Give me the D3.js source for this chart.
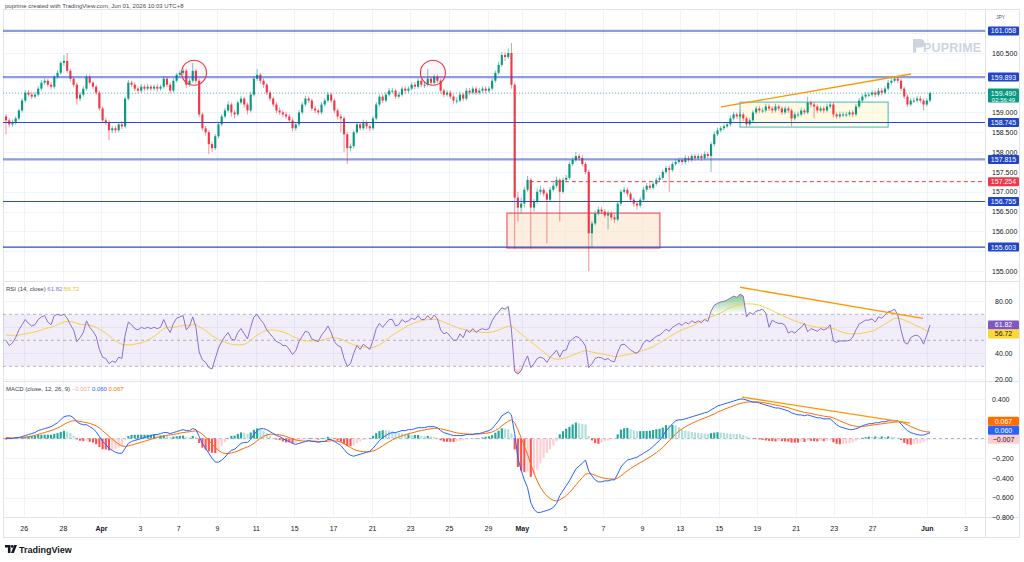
<!DOCTYPE html>
<html>
<head>
<meta charset="utf-8">
<title>USDJPY 4H</title>
<script src="https://cdn.jsdelivr.net/npm/d3@7"></script>
<style>
  body { margin: 0; background: #fff; }
  svg { display: block; }
  text { font-family: "Liberation Sans", Arial, sans-serif; }
</style>
</head>
<body>
<div id="chart"></div>
<script>
// ---- 4H candles ----
const opens = [
158.90,158.80,158.70,158.75,158.85,159.05,159.30,159.50,159.45,159.40,
159.45,159.60,159.75,159.80,159.70,159.65,159.90,160.00,160.25,160.30,
160.05,159.85,159.70,159.35,159.45,159.60,159.90,159.75,159.65,159.50,
159.10,158.80,158.75,158.55,158.60,158.55,158.70,158.65,159.35,159.75,
159.70,159.60,159.55,159.65,159.60,159.65,159.60,159.65,159.60,159.65,
159.85,159.70,159.55,159.80,159.95,160.00,160.05,159.70,159.80,160.05,
159.80,158.95,158.60,158.50,158.20,158.10,158.40,158.70,158.90,159.05,
159.20,159.00,158.95,159.25,159.35,159.20,159.05,159.45,159.85,159.95,
159.80,159.70,159.50,159.35,159.20,159.05,159.00,158.95,158.90,158.80,
158.60,158.70,159.00,159.20,159.35,159.30,159.10,159.05,159.00,159.20,
159.30,159.45,159.30,159.05,158.90,158.85,158.45,158.10,158.15,158.50,
158.70,158.60,158.75,158.65,158.60,158.85,159.20,159.40,159.30,159.45,
159.55,159.55,159.40,159.45,159.60,159.55,159.60,159.70,159.65,159.80,
159.70,159.70,159.85,159.75,159.90,159.80,159.55,159.45,159.50,159.40,
159.30,159.30,159.45,159.35,159.55,159.50,159.60,159.50,159.55,159.60,
159.55,159.60,159.80,160.00,160.20,160.45,160.40,160.50,159.70,156.85,
156.60,156.70,157.05,157.30,156.60,156.75,157.00,157.05,156.95,156.80,
157.05,157.15,157.30,157.00,157.30,157.35,157.70,157.80,157.90,157.85,
157.70,157.50,155.95,156.20,156.45,156.55,156.50,156.40,156.45,156.35,
156.30,156.70,157.00,157.05,156.95,156.80,156.70,156.65,156.80,157.05,
157.15,157.10,157.20,157.30,157.35,157.50,157.60,157.55,157.70,157.75,
157.80,157.75,157.85,157.80,157.90,157.85,157.90,157.85,157.95,157.90,
158.20,158.45,158.55,158.60,158.65,158.70,158.85,158.95,158.90,158.95,
158.85,158.70,158.80,159.00,159.10,159.05,159.05,159.15,159.10,159.05,
159.15,159.10,159.00,159.10,159.05,158.85,158.95,158.95,159.05,159.00,
159.25,159.20,159.15,159.05,159.10,159.05,159.15,159.20,158.95,158.90,
158.95,158.95,158.95,159.00,158.95,159.15,159.30,159.40,159.45,159.45,
159.50,159.45,159.55,159.50,159.60,159.75,159.80,159.85,159.80,159.60,
159.40,159.20,159.30,159.30,159.35,159.30,159.20,159.30];
const highs = [
158.96,158.86,158.82,158.90,159.10,159.36,159.56,159.56,159.52,159.52,
159.66,159.82,159.86,159.85,159.76,159.95,160.06,160.30,160.45,160.50,
160.10,159.90,159.75,159.52,159.66,159.96,159.96,159.80,159.70,159.55,
159.15,158.86,158.80,158.66,158.66,158.76,158.78,159.40,159.82,159.80,
159.76,159.66,159.72,159.70,159.72,159.70,159.70,159.72,159.70,159.92,
159.90,159.75,159.86,160.00,160.06,160.12,160.10,159.86,160.25,160.10,
159.85,159.00,158.66,158.55,158.26,158.46,158.76,158.96,159.12,159.28,
159.25,159.06,159.30,159.42,159.40,159.25,159.52,159.92,160.10,160.00,
159.86,159.75,159.56,159.40,159.26,159.12,159.06,159.02,158.96,158.86,
158.76,159.06,159.26,159.42,159.40,159.35,159.16,159.10,159.26,159.36,
159.52,159.50,159.35,159.10,158.96,158.90,158.50,158.22,158.56,158.76,
158.76,158.82,158.80,158.70,158.90,159.26,159.46,159.46,159.52,159.62,
159.62,159.60,159.52,159.66,159.66,159.66,159.76,159.76,159.86,159.86,
159.78,160.10,159.90,159.96,159.96,159.85,159.60,159.56,159.56,159.45,
159.38,159.52,159.50,159.62,159.62,159.66,159.66,159.62,159.66,159.66,
159.66,159.86,160.06,160.28,160.52,160.52,160.62,160.75,159.75,157.00,
156.85,157.12,157.40,157.35,156.82,157.08,157.15,157.10,157.00,157.12,
157.22,157.38,157.35,157.36,157.42,157.76,157.86,158.00,157.96,157.92,
157.75,157.55,156.26,156.52,156.62,156.62,156.56,156.52,156.50,156.42,
156.76,157.06,157.12,157.10,157.00,156.85,156.76,156.86,157.12,157.22,
157.22,157.26,157.36,157.42,157.56,157.66,157.66,157.76,157.82,157.86,
157.86,157.92,157.90,157.96,157.96,157.96,157.96,158.02,158.00,158.26,
158.52,158.62,158.66,158.72,158.76,158.92,159.02,159.00,159.02,159.00,
158.90,158.86,159.06,159.16,159.16,159.12,159.22,159.22,159.16,159.22,
159.20,159.15,159.16,159.16,159.10,159.02,159.02,159.12,159.10,159.40,
159.30,159.26,159.20,159.16,159.16,159.22,159.26,159.25,159.00,159.02,
159.02,159.02,159.06,159.06,159.22,159.36,159.46,159.52,159.52,159.56,
159.56,159.62,159.62,159.66,159.82,159.86,159.92,159.90,159.85,159.65,
159.45,159.36,159.38,159.42,159.42,159.35,159.36,159.52];
const lows = [
158.45,158.62,158.64,158.70,158.80,159.00,159.25,159.40,159.34,159.35,
159.40,159.55,159.70,159.64,159.58,159.60,159.85,159.95,160.18,160.00,
159.78,159.64,159.20,159.28,159.40,159.55,159.70,159.60,159.44,159.04,
158.74,158.68,158.30,158.48,158.48,158.50,158.58,158.60,159.30,159.64,
159.54,159.48,159.50,159.54,159.55,159.54,159.55,159.52,159.55,159.60,
159.64,159.48,159.50,159.75,159.90,159.95,159.62,159.65,159.75,159.74,
158.88,158.54,158.42,157.95,158.00,158.05,158.35,158.65,158.85,159.00,
158.90,158.85,158.90,159.20,159.12,158.95,159.00,159.40,159.80,159.72,
159.62,159.44,159.28,159.14,158.98,158.94,158.88,158.84,158.74,158.52,
158.54,158.65,158.95,159.15,159.24,159.04,158.98,158.94,158.95,159.15,
159.25,159.24,158.98,158.82,158.50,158.00,157.70,158.02,158.10,158.45,
158.54,158.55,158.58,158.52,158.55,158.80,159.15,159.24,159.25,159.40,
159.48,159.34,159.35,159.40,159.48,159.50,159.55,159.58,159.60,159.64,
159.62,159.65,159.68,159.70,159.74,159.48,159.38,159.40,159.34,159.22,
159.22,159.25,159.28,159.30,159.44,159.45,159.44,159.45,159.50,159.48,
159.50,159.55,159.75,159.95,160.15,160.30,160.35,159.60,155.55,156.25,
156.45,156.60,157.00,155.55,156.50,156.70,156.92,156.88,155.70,156.75,
157.00,157.10,156.25,156.95,157.25,157.30,157.65,157.75,157.78,157.64,
157.44,155.00,155.60,156.15,156.40,156.44,156.34,156.05,156.28,156.22,
156.25,156.65,156.95,156.88,156.74,156.62,156.55,156.60,156.75,157.00,
157.04,157.05,157.15,157.25,157.30,157.45,157.00,157.50,157.65,157.70,
157.68,157.70,157.74,157.75,157.78,157.80,157.78,157.80,157.84,157.50,
158.15,158.40,158.50,158.55,158.60,158.65,158.80,158.84,158.85,158.78,
158.64,158.65,158.75,158.95,158.98,158.98,159.00,159.04,158.98,159.00,
159.04,158.94,158.95,158.98,158.65,158.80,158.88,158.90,158.94,158.95,
159.14,158.85,158.98,159.00,158.98,159.00,159.10,158.88,158.84,158.85,
158.88,158.88,158.90,158.88,158.90,159.10,159.25,159.35,159.38,159.40,
159.38,159.40,159.44,159.45,159.55,159.70,159.75,159.74,159.54,159.34,
159.14,159.15,159.24,159.25,159.24,159.05,159.15,159.25];
const closes = [
158.80,158.70,158.75,158.85,159.05,159.30,159.50,159.45,159.40,159.45,
159.60,159.75,159.80,159.70,159.65,159.90,160.00,160.25,160.30,160.05,
159.85,159.70,159.35,159.45,159.60,159.90,159.75,159.65,159.50,159.10,
158.80,158.75,158.55,158.60,158.55,158.70,158.65,159.35,159.75,159.70,
159.60,159.55,159.65,159.60,159.65,159.60,159.65,159.60,159.65,159.85,
159.70,159.55,159.80,159.95,160.00,160.05,159.70,159.80,160.05,159.80,
158.95,158.60,158.50,158.20,158.10,158.40,158.70,158.90,159.05,159.20,
159.00,158.95,159.25,159.35,159.20,159.05,159.45,159.85,159.95,159.80,
159.70,159.50,159.35,159.20,159.05,159.00,158.95,158.90,158.80,158.60,
158.70,159.00,159.20,159.35,159.30,159.10,159.05,159.00,159.20,159.30,
159.45,159.30,159.05,158.90,158.85,158.45,158.10,158.15,158.50,158.70,
158.60,158.75,158.65,158.60,158.85,159.20,159.40,159.30,159.45,159.55,
159.55,159.40,159.45,159.60,159.55,159.60,159.70,159.65,159.80,159.70,
159.70,159.85,159.75,159.90,159.80,159.55,159.45,159.50,159.40,159.30,
159.30,159.45,159.35,159.55,159.50,159.60,159.50,159.55,159.60,159.55,
159.60,159.80,160.00,160.20,160.45,160.40,160.50,159.70,156.85,156.60,
156.70,157.05,157.30,156.60,156.75,157.00,157.05,156.95,156.80,157.05,
157.15,157.30,157.00,157.30,157.35,157.70,157.80,157.90,157.85,157.70,
157.50,155.95,156.20,156.45,156.55,156.50,156.40,156.45,156.35,156.30,
156.70,157.00,157.05,156.95,156.80,156.70,156.65,156.80,157.05,157.15,
157.10,157.20,157.30,157.35,157.50,157.60,157.55,157.70,157.75,157.80,
157.75,157.85,157.80,157.90,157.85,157.90,157.85,157.95,157.90,158.20,
158.45,158.55,158.60,158.65,158.70,158.85,158.95,158.90,158.95,158.85,
158.70,158.80,159.00,159.10,159.05,159.05,159.15,159.10,159.05,159.15,
159.10,159.00,159.10,159.05,158.85,158.95,158.95,159.05,159.00,159.25,
159.20,159.15,159.05,159.10,159.05,159.15,159.20,158.95,158.90,158.95,
158.95,158.95,159.00,158.95,159.15,159.30,159.40,159.45,159.45,159.50,
159.45,159.55,159.50,159.60,159.75,159.80,159.85,159.80,159.60,159.40,
159.20,159.30,159.30,159.35,159.30,159.20,159.30,159.49];

// ---- RSI (14) and its moving average ----
const rsiValues = [
50,46,48,52,58,62,66,63,61,62,
66,68,69,64,62,69,70,69,70,67,
62,58,49,52,56,65,60,57,53,43,
37,36,32,34,33,37,36,54,64,62,
59,58,60,59,60,59,60,59,60,66,
60,56,63,67,68,69,58,61,68,60,
41,35,33,29,28,36,44,49,53,56,
51,50,56,59,55,51,60,68,70,66,
63,58,55,52,49,48,46,46,43,39,
42,49,53,57,56,51,50,49,54,57,
61,56,49,46,45,36,30,32,40,46,
43,47,45,43,50,59,63,60,63,66,
66,61,62,66,64,65,67,66,69,66,
66,69,66,69.5,66.5,58,55,56,53,50,
50,55,52,58,56,59,56,58,59,58,
59,65,69,72,75,74,76,58,26,24,
26.5,33,38,29,32,36,37,36,33,37,
39.5,42.5,37,42,42.5,49,51,53,52,49.5,
45.5,29,32,36,37,36.5,35,36,34,33.5,
41,46.5,47,45,42.5,41,40,43,48,50,
49,51,53,54,56,58.5,57,60,61.5,63,
61.5,64,62.5,65,63.5,65,63.5,66,64.5,72.5,
77,78.5,79.5,80,81,82.5,84,83,85.5,84,
68,71.5,70,72.5,73,74,71,60,65.5,64,
63,63,61.5,55.5,57,55.5,58,60,63,56.5,
59,58,57,59,58,59,62,49.5,48.5,49.5,
49.5,49.5,50,52.5,58,62.5,64,65.5,65.5,66.5,
64,68,67,69.5,72,72.5,74,69.5,58,48.5,
47,52,53.5,54,52,47,54,61.82];
const rsiMA = [
54,54,53.5,53.5,54,54.5,55,55.5,56,56.5,57,
58,59,59.5,60,61,62,63,64,64.5,64.5,
64,63,62.5,62,62,61.5,61,60,58.5,57,
55.5,53.5,51.5,49.5,48,47,46.5,46.5,46.5,47,
47.5,48,49,50,51.5,53,55,57,59,60,
60,60,60.5,61,61.5,61.5,61.5,62,62,60.5,
59,57.5,55.5,53.5,52,50.5,49.5,48.5,47.5,47,
46.5,46.5,46.5,47,48,50,52,54,55.5,57,
57.5,58,58,57.5,57,56.5,55.5,54.5,53,52,
51,50,49.5,49.5,49.5,49.5,49.5,50,50.5,51.5,
52,52,51.5,51,50,48.5,47.5,46.5,46,45.5,
45,44.5,44,44.5,45.5,46.5,48,50,52,54,
55.5,57,58.5,60,61.5,62.5,63.5,64.5,65,65.5,
66,66,66,66,65,64,63,62,61,60,
59,58.5,58,57.5,57,57,56.5,56,56,56,
56.5,57,58,59,60,61,61,59,57,55,
53,51,49,47,45,43,41,39,37,36,
35.5,35.5,36,36.5,37.5,38.5,39.5,40.5,41.5,42,
41.5,41,40.5,40,39.5,39,38.5,38,37.5,37.5,
38,38.5,39,39.5,40,40.5,41.5,42.5,43,44,
45,46.5,48,49.5,51,52.5,54,55.5,57,58,
59,60,61,62,63.5,65,66,67,68,69,
70,71,72.5,74,75,76,77,77.5,78,78,
78,78,77.5,77,76,75,74,73,71.5,70.5,
69.5,68,67,66,65,64,63,62.5,61.5,61,
60.5,60,60,60,59.5,59.5,59,58,57,56,
55.5,55,55,55,55,55.5,56,56.5,57,58,
59.5,61,62.5,64,65.5,67,67,66.5,65.5,64.5,
63.5,62,61,60,58.5,57.5,56.72];

// ---- MACD (12, 26, 9) ----
const macdLine = [
0,0,0,.01,.01,.02,.03,.04,.05,.06,
.08,.09,.10,.11,.12,.14,.16,.19,.22,.23,
.23,.21,.17,.15,.14,.14,.12,.10,.07,.02,
-.03,-.06,-.10,-.12,-.14,-.15,-.15,-.10,-.05,-.03,
-.02,-.01,0,.01,.02,.03,.04,.04,.05,.06,
.06,.05,.06,.07,.08,.09,.08,.08,.10,.09,
.02,-.05,-.10,-.15,-.20,-.24,-.24,-.22,-.19,-.15,
-.12,-.11,-.08,-.05,-.04,-.04,-.01,.04,.08,.10,
.10,.09,.07,.05,.03,.02,0,-.02,-.03,-.05,
-.06,-.05,-.04,-.03,-.02,-.03,-.03,-.04,-.03,-.03,
-.01,-.01,-.03,-.05,-.07,-.11,-.15,-.17,-.18,-.17,
-.16,-.15,-.14,-.13,-.10,-.06,-.02,.01,.03,.05,
.06,.06,.07,.08,.08,.09,.09,.10,.11,.11,
.11,.12,.12,.12,.11,.08,.06,.05,.04,.03,
.03,.03,.03,.04,.04,.04,.05,.05,.06,.07,
.08,.10,.14,.18,.23,.25,.27,.24,.05,-.20,
-.32,-.42,-.50,-.65,-.72,-.75,-.75,-.74,-.73,-.72,
-.70,-.66,-.58,-.53,-.48,-.43,-.37,-.31,-.28,-.25,
-.22,-.33,-.38,-.42,-.44,-.44,-.43,-.43,-.42,-.42,
-.36,-.29,-.25,-.22,-.21,-.20,-.19,-.17,-.15,-.13,
-.11,-.08,-.05,-.02,.02,.08,.11,.15,.18,.19,
.19,.20,.21,.22,.23,.24,.25,.26,.27,.29,
.31,.33,.34,.35,.36,.37,.38,.39,.40,.40,
.39,.38,.37,.37,.36,.35,.34,.33,.32,.31,
.31,.30,.29,.28,.26,.25,.24,.24,.23,.24,
.23,.22,.21,.21,.20,.20,.20,.17,.14,.12,
.11,.10,.09,.09,.10,.11,.13,.14,.15,.15,
.16,.16,.17,.17,.18,.18,.18,.18,.15,.11,
.08,.06,.05,.04,.035,.035,.045,.060];
const signalLine = [
.010,.008,.006,.007,.008,.010,.014,.019,.025,.032,
.042,.052,.061,.071,.081,.093,.106,.123,.142,.160,
.174,.181,.179,.173,.166,.161,.153,.142,.128,.106,
.079,.051,.021,-.007,-.034,-.057,-.076,-.081,-.075,-.066,
-.057,-.048,-.038,-.028,-.018,-.008,.002,.010,.018,.026,
.033,.036,.041,.047,.054,.061,.065,.068,.074,.077,
.066,.043,.014,-.019,-.055,-.092,-.122,-.142,-.152,-.152,
-.146,-.139,-.127,-.112,-.098,-.086,-.071,-.049,-.023,.002,
.022,.036,.043,.044,.041,.037,.030,.020,.010,-.002,
-.014,-.021,-.025,-.026,-.025,-.026,-.027,-.030,-.030,-.030,
-.026,-.023,-.024,-.029,-.037,-.052,-.072,-.092,-.110,-.122,
-.130,-.134,-.135,-.134,-.127,-.114,-.095,-.074,-.053,-.032,
-.014,.001,.015,.028,.038,.048,.056,.065,.074,.081,
.087,.094,.099,.103,.104,.099,.091,.083,.074,.065,
.058,.052,.048,.046,.045,.044,.045,.046,.049,.053,
.058,.066,.081,.101,.127,.152,.176,.189,.161,.089,
.007,-.078,-.162,-.260,-.352,-.432,-.496,-.545,-.582,-.610,
-.628,-.634,-.623,-.604,-.579,-.549,-.513,-.472,-.434,-.397,
-.362,-.356,-.361,-.373,-.386,-.397,-.404,-.409,-.411,-.413,
-.402,-.380,-.354,-.327,-.304,-.283,-.264,-.245,-.226,-.207,
-.188,-.166,-.143,-.118,-.090,-.056,-.023,.012,.046,.075,
.098,.118,.136,.153,.168,.182,.196,.209,.221,.235,
.250,.266,.281,.295,.308,.320,.332,.344,.355,.364,
.369,.371,.371,.371,.369,.365,.360,.354,.347,.340,
.334,.327,.320,.312,.302,.292,.282,.274,.265,.260,
.254,.247,.240,.234,.227,.222,.218,.208,.194,.179,
.165,.152,.140,.130,.124,.121,.123,.126,.131,.135,
.140,.144,.149,.153,.158,.162,.166,.169,.165,.154,
.139,.123,.108,.094,.082,.073,.067,.067];
const macdHist = [
-.010,-.008,-.006,.003,.002,.010,.016,.021,.025,.028,
.038,.038,.039,.039,.039,.047,.054,.067,.078,.070,
.056,.029,-.009,-.023,-.026,-.021,-.033,-.042,-.058,-.086,
-.109,-.111,-.121,-.113,-.106,-.093,-.074,-.019,.025,.036,
.037,.038,.038,.038,.038,.038,.038,.030,.032,.034,
.027,.014,.019,.023,.026,.029,.015,.012,.026,.013,
-.046,-.093,-.114,-.131,-.145,-.148,-.118,-.078,-.038,.002,
.026,.029,.047,.062,.058,.046,.061,.089,.103,.098,
.078,.054,.027,.006,-.011,-.017,-.030,-.040,-.040,-.048,
-.046,-.029,-.015,-.004,.005,-.004,-.003,-.010,.000,.000,
.016,.013,-.006,-.021,-.033,-.058,-.078,-.078,-.070,-.048,
-.030,-.016,-.005,.004,.027,.054,.075,.084,.083,.082,
.074,.059,.055,.052,.042,.042,.034,.035,.036,.029,
.023,.026,.021,.017,.006,-.019,-.031,-.033,-.034,-.035,
-.028,-.022,-.018,-.006,-.005,-.004,.005,.004,.011,.017,
.022,.034,.059,.079,.103,.098,.094,.051,-.111,-.289,
-.327,-.342,-.338,-.390,-.368,-.318,-.254,-.195,-.148,-.110,
-.072,-.026,.043,.074,.099,.119,.143,.162,.154,.147,
.142,.026,-.019,-.047,-.054,-.043,-.026,-.021,-.009,-.007,
.042,.090,.104,.107,.094,.083,.074,.075,.076,.077,
.078,.086,.093,.098,.110,.136,.133,.138,.134,.115,
.092,.082,.074,.067,.062,.058,.054,.051,.049,.055,
.060,.064,.059,.055,.052,.050,.048,.046,.045,.036,
.021,.009,-.001,-.001,-.009,-.015,-.020,-.024,-.027,-.030,
-.024,-.027,-.030,-.032,-.042,-.042,-.042,-.034,-.035,-.020,
-.024,-.027,-.030,-.024,-.027,-.022,-.018,-.038,-.054,-.059,
-.055,-.052,-.050,-.040,-.024,-.011,.007,.014,.019,.015,
.020,.016,.021,.017,.022,.018,.014,.011,-.015,-.044,
-.059,-.063,-.058,-.054,-.047,-.038,-.022,-.007];

// ---- time axis (bar index of each date label) ----
const tickLabels = ["26","28","Apr","3","7","9","11","15","17","21","23","25","29","May","5","7","9","13","15","19","21","23","27","Jun","3"];
const tickBars = [5.5,17.7,29.5,41.6,53.5,65.5,77.6,89.5,101.6,113.7,125.5,137.6,149.7,160.2,173.6,185.4,197.5,209.3,221.4,233.2,245.3,257.1,269,286,298];

// ---- drawings on the chart ----
const levelLines = [161.058, 159.893, 158.745, 157.815, 156.755, 155.603];
const heavyLevels = [161.058, 159.893, 157.815];
const dashedLevel = 157.254, dashedFromBar = 162.7;
const lastPrice = 159.490, countdown = "02:56:49";
const priceTrend = [[222.1, 159.14], [281.1, 159.97]];
const rsiTrend = [[228, 90.8], [284.8, 66.9]];
const macdTrend = [[228.6, 0.42], [280.8, 0.157]];
const circleMarks = [[58.4, 160.0], [132.6, 160.0]];
const zoneLow = {from: 155.6, to: 203.1, top: 156.46, bottom: 155.58};
const zoneRange = {from: 228, to: 274, top: 159.26, bottom: 158.63};
const priceTicks = d3.range(155, 161.01, 0.5);
const rsiTicks = [20, 40, 60, 80];
const macdTicks = [-0.8, -0.6, -0.4, -0.2, 0, 0.2, 0.4];

// ---- layout ----
const W = 1024, H = 562, plotL = 3, plotR = 985;
const UP = "#089981", DOWN = "#f23645", BLUE = "#2a4bd0", GRID = "#f0f3fa", BORDER = "#e0e3eb";

const svg = d3.select("#chart").append("svg").attr("width", W).attr("height", H);
svg.append("rect").attr("width", W).attr("height", H).attr("fill", "#fff");
const defs = svg.append("defs");
function clip(id, y0, y1) {
  defs.append("clipPath").attr("id", id).append("rect")
    .attr("x", plotL).attr("y", y0).attr("width", plotR - plotL).attr("height", y1 - y0);
}
clip("clip-price", 10, 281);
clip("clip-rsi", 281, 381);
clip("clip-macd", 381, 517);

const x = d3.scaleLinear().domain([0, closes.length - 1]).range([6, 930]);
const yPrice = d3.scaleLinear().domain([155, 160.5]).range([271, 53]);
const yRsi = d3.scaleLinear().domain([30, 70]).range([366.3, 314.3]);
const yMacd = d3.scaleLinear().domain([-0.8, 0.4]).range([517.3, 399.1]);
const idx = d3.range(closes.length);
const bw = (x(1) - x(0)) * 0.66;

// header
svg.append("text").attr("x", 5).attr("y", 8).attr("font-size", 6).attr("fill", "#4a4a4a")
  .text("puprime created with TradingView.com, Jun 01, 2026 10:03 UTC+8");

// grid
const grid = svg.append("g").attr("stroke", GRID).attr("stroke-width", 1);
grid.selectAll("line.v").data(tickBars).join("line")
  .attr("x1", d => Math.round(x(d)) + 0.5).attr("x2", d => Math.round(x(d)) + 0.5)
  .attr("y1", 10).attr("y2", 517);
grid.selectAll("line.p").data(priceTicks).join("line").attr("class", "p")
  .attr("x1", plotL).attr("x2", plotR)
  .attr("y1", d => Math.round(yPrice(d)) + 0.5).attr("y2", d => Math.round(yPrice(d)) + 0.5);
grid.selectAll("line.r").data(rsiTicks).join("line").attr("class", "r")
  .attr("x1", plotL).attr("x2", plotR)
  .attr("y1", d => Math.round(yRsi(d)) + 0.5).attr("y2", d => Math.round(yRsi(d)) + 0.5);
grid.selectAll("line.m").data(macdTicks).join("line").attr("class", "m")
  .attr("x1", plotL).attr("x2", plotR)
  .attr("y1", d => Math.round(yMacd(d)) + 0.5).attr("y2", d => Math.round(yMacd(d)) + 0.5);

// frame and pane separators
const frame = svg.append("g").attr("stroke", BORDER).attr("fill", "none");
frame.append("rect").attr("x", 3.5).attr("y", 9.5).attr("width", 1016).attr("height", 528);
[281, 381, 517].forEach(y => frame.append("line").attr("x1", 3).attr("x2", 1019).attr("y1", y + 0.5).attr("y2", y + 0.5));
frame.append("line").attr("x1", plotR + 0.5).attr("x2", plotR + 0.5).attr("y1", 10).attr("y2", 538);

// ===== price pane =====
const pp = svg.append("g").attr("clip-path", "url(#clip-price)");

// watermark
const wm = pp.append("g").attr("fill", "#cdd4df");
wm.append("path").attr("d", "M913 39h7.5a4.2 4.2 0 0 1 0 8.4h-4.3v5h-3.2z");
wm.append("text").attr("x", 923).attr("y", 52).attr("font-size", 12.5).attr("font-weight", 700)
  .attr("letter-spacing", 0.2).text("PUPRIME");

// zones
function zone(z, fill, stroke) {
  pp.append("rect")
    .attr("x", x(z.from)).attr("width", x(z.to) - x(z.from))
    .attr("y", yPrice(z.top)).attr("height", yPrice(z.bottom) - yPrice(z.top))
    .attr("fill", fill).attr("stroke", stroke).attr("stroke-width", 1.2);
}
zone(zoneLow, "rgba(252,226,196,0.55)", "#ef5a67");
zone(zoneRange, "rgba(253,246,210,0.6)", "#5cc6cc");

// current price dotted line
pp.append("line").attr("x1", plotL).attr("x2", plotR)
  .attr("y1", yPrice(lastPrice)).attr("y2", yPrice(lastPrice))
  .attr("stroke", UP).attr("stroke-opacity", 0.6).attr("stroke-dasharray", "1,2");

// candles
const wicks = pp.append("g");
wicks.selectAll("line").data(idx).join("line")
  .attr("x1", i => x(i)).attr("x2", i => x(i))
  .attr("y1", i => yPrice(highs[i])).attr("y2", i => yPrice(lows[i]))
  .attr("stroke", i => closes[i] >= opens[i] ? UP : DOWN)
  .attr("stroke-opacity", 0.55).attr("stroke-width", 1);
const bodies = pp.append("g");
bodies.selectAll("rect").data(idx).join("rect")
  .attr("x", i => x(i) - bw / 2).attr("width", bw)
  .attr("y", i => yPrice(Math.max(opens[i], closes[i])))
  .attr("height", i => Math.max(1, Math.abs(yPrice(opens[i]) - yPrice(closes[i]))))
  .attr("fill", i => closes[i] >= opens[i] ? UP : DOWN);

// horizontal levels
pp.selectAll("line.level").data(levelLines).join("line").attr("class", "level")
  .attr("x1", plotL).attr("x2", plotR)
  .attr("y1", d => yPrice(d)).attr("y2", d => yPrice(d))
  .attr("stroke", BLUE)
  .attr("stroke-opacity", d => heavyLevels.includes(d) ? 0.55 : 1)
  .attr("stroke-width", d => heavyLevels.includes(d) ? 2.2 : 1.1);

pp.append("line").attr("x1", x(dashedFromBar)).attr("x2", plotR)
  .attr("y1", yPrice(dashedLevel)).attr("y2", yPrice(dashedLevel))
  .attr("stroke", DOWN).attr("stroke-dasharray", "4,3");

pp.append("line")
  .attr("x1", x(priceTrend[0][0])).attr("y1", yPrice(priceTrend[0][1]))
  .attr("x2", x(priceTrend[1][0])).attr("y2", yPrice(priceTrend[1][1]))
  .attr("stroke", "#ff9800").attr("stroke-width", 1.3);

pp.selectAll("circle.mark").data(circleMarks).join("circle").attr("class", "mark")
  .attr("cx", d => x(d[0])).attr("cy", d => yPrice(d[1])).attr("r", 12.5)
  .attr("fill", "rgba(242,54,69,0.04)").attr("stroke", DOWN).attr("stroke-width", 1.1);

// ===== RSI pane =====
const rp = svg.append("g").attr("clip-path", "url(#clip-rsi)");
rp.append("rect").attr("x", plotL).attr("width", plotR - plotL)
  .attr("y", yRsi(70)).attr("height", yRsi(30) - yRsi(70)).attr("fill", "rgba(126,87,194,0.1)");
rp.selectAll("line.band").data([70, 50, 30]).join("line").attr("class", "band")
  .attr("x1", plotL).attr("x2", plotR).attr("y1", d => yRsi(d)).attr("y2", d => yRsi(d))
  .attr("stroke", "#9598a1").attr("stroke-opacity", 0.7).attr("stroke-dasharray", "3,3");

const gOb = defs.append("linearGradient").attr("id", "ob").attr("gradientUnits", "userSpaceOnUse")
  .attr("x1", 0).attr("x2", 0).attr("y1", yRsi(90)).attr("y2", yRsi(70));
gOb.append("stop").attr("offset", 0).attr("stop-color", "#4caf50").attr("stop-opacity", 0.9);
gOb.append("stop").attr("offset", 1).attr("stop-color", "#4caf50").attr("stop-opacity", 0);
const gOs = defs.append("linearGradient").attr("id", "os").attr("gradientUnits", "userSpaceOnUse")
  .attr("x1", 0).attr("x2", 0).attr("y1", yRsi(30)).attr("y2", yRsi(18));
gOs.append("stop").attr("offset", 0).attr("stop-color", "#f23645").attr("stop-opacity", 0);
gOs.append("stop").attr("offset", 1).attr("stop-color", "#f23645").attr("stop-opacity", 0.9);

rp.append("path").datum(idx)
  .attr("d", d3.area().x(i => x(i)).y0(yRsi(70)).y1(i => yRsi(Math.max(rsiValues[i], 70))))
  .attr("fill", "url(#ob)");
rp.append("path").datum(idx)
  .attr("d", d3.area().x(i => x(i)).y0(yRsi(30)).y1(i => yRsi(Math.min(rsiValues[i], 30))))
  .attr("fill", "url(#os)");

rp.append("path").datum(idx)
  .attr("d", d3.line().x(i => x(i)).y(i => yRsi(rsiMA[i])))
  .attr("fill", "none").attr("stroke", "#f7cf4a").attr("stroke-width", 1);
rp.append("path").datum(idx)
  .attr("d", d3.line().x(i => x(i)).y(i => yRsi(rsiValues[i])))
  .attr("fill", "none").attr("stroke", "#8d6fd0").attr("stroke-width", 1);
rp.append("line")
  .attr("x1", x(rsiTrend[0][0])).attr("y1", yRsi(rsiTrend[0][1]))
  .attr("x2", x(rsiTrend[1][0])).attr("y2", yRsi(rsiTrend[1][1]))
  .attr("stroke", "#ff9800").attr("stroke-width", 1.3);

// ===== MACD pane =====
const mp = svg.append("g").attr("clip-path", "url(#clip-macd)");
mp.append("line").attr("x1", plotL).attr("x2", plotR).attr("y1", yMacd(0)).attr("y2", yMacd(0))
  .attr("stroke", "#b2b5be").attr("stroke-dasharray", "3,3");
function histColor(i) {
  const h = macdHist[i], prev = i > 0 ? macdHist[i - 1] : h;
  if (h >= 0) return h >= prev ? "#26a69a" : "#b2dfdb";
  return h <= prev ? "#ff5252" : "#ffcdd2";
}
mp.selectAll("rect").data(idx).join("rect")
  .attr("x", i => x(i) - bw / 2).attr("width", bw)
  .attr("y", i => Math.min(yMacd(0), yMacd(macdHist[i])))
  .attr("height", i => Math.max(0.5, Math.abs(yMacd(macdHist[i]) - yMacd(0))))
  .attr("fill", histColor);
mp.append("path").datum(idx)
  .attr("d", d3.line().x(i => x(i)).y(i => yMacd(signalLine[i])))
  .attr("fill", "none").attr("stroke", "#ff6d00").attr("stroke-width", 1);
mp.append("path").datum(idx)
  .attr("d", d3.line().x(i => x(i)).y(i => yMacd(macdLine[i])))
  .attr("fill", "none").attr("stroke", "#2962ff").attr("stroke-width", 1);
mp.append("line")
  .attr("x1", x(macdTrend[0][0])).attr("y1", yMacd(macdTrend[0][1]))
  .attr("x2", x(macdTrend[1][0])).attr("y2", yMacd(macdTrend[1][1]))
  .attr("stroke", "#ff9800").attr("stroke-width", 1.3);

// pane titles
const rsiTitle = svg.append("text").attr("x", 6).attr("y", 291).attr("font-size", 6).attr("fill", "#3c3f47");
rsiTitle.append("tspan").text("RSI (14, close) ");
rsiTitle.append("tspan").attr("fill", "#8d6fd0").text(d3.format(".2f")(rsiValues[rsiValues.length - 1]) + " ");
rsiTitle.append("tspan").attr("fill", "#e8c02a").text(d3.format(".2f")(rsiMA[rsiMA.length - 1]));
const macdTitle = svg.append("text").attr("x", 6).attr("y", 391).attr("font-size", 6).attr("fill", "#3c3f47");
macdTitle.append("tspan").text("MACD (close, 12, 26, 9) ");
macdTitle.append("tspan").attr("fill", "#f7a1aa").text(d3.format(".3f")(macdHist[macdHist.length - 1]) + " ");
macdTitle.append("tspan").attr("fill", "#2962ff").text(d3.format(".3f")(macdLine[macdLine.length - 1]) + " ");
macdTitle.append("tspan").attr("fill", "#ff6d00").text(d3.format(".3f")(signalLine[signalLine.length - 1]));

// ===== axes =====
function styleAxis(g) {
  g.select(".domain").remove();
  g.selectAll("text").attr("font-size", 7).attr("fill", "#131722")
    .attr("font-family", '"Liberation Sans", Arial, sans-serif');
}
const priceAxis = svg.append("g").attr("transform", `translate(${plotR},0)`)
  .call(d3.axisRight(yPrice).tickValues(priceTicks).tickFormat(d3.format(".3f")).tickSize(0).tickPadding(7))
  .call(styleAxis);
const rsiAxis = svg.append("g").attr("transform", `translate(${plotR},0)`)
  .call(d3.axisRight(yRsi).tickValues(rsiTicks).tickFormat(d3.format(".2f")).tickSize(0).tickPadding(10))
  .call(styleAxis);
const macdAxis = svg.append("g").attr("transform", `translate(${plotR},0)`)
  .call(d3.axisRight(yMacd).tickValues(macdTicks).tickFormat(d3.format(".3f")).tickSize(0).tickPadding(7))
  .call(styleAxis);
svg.append("g").attr("transform", "translate(0,524)")
  .call(d3.axisBottom(x).tickValues(tickBars).tickFormat((d, i) => tickLabels[i]).tickSize(0).tickPadding(2))
  .call(styleAxis)
  .call(g => g.selectAll("text").attr("font-weight", (d, i) => /[A-Za-z]/.test(tickLabels[i]) ? 700 : 400));

svg.append("text").attr("x", 996).attr("y", 19).attr("font-size", 5).attr("fill", "#50535e").text("JPY");

// ===== value tags on the right scale =====
const tagBoxes = [];
function tag(y, label, bg, fg, sub) {
  const h = sub ? 14 : 9;
  tagBoxes.push({y0: y - 4.5, y1: y - 4.5 + h});
  const g = svg.append("g").attr("transform", `translate(988,${y})`);
  g.append("rect").attr("y", -4.5).attr("width", 31).attr("height", h).attr("rx", 1).attr("fill", bg);
  g.append("text").attr("x", 15.5).attr("y", 2.5).attr("text-anchor", "middle")
    .attr("font-size", 7).attr("fill", fg).text(label);
  if (sub) g.append("text").attr("x", 15.5).attr("y", 8.5).attr("text-anchor", "middle")
    .attr("font-size", 6).attr("fill", fg).text(sub);
}
levelLines.forEach(v => tag(yPrice(v), d3.format(".3f")(v), "#1f45c8", "#fff"));
tag(yPrice(dashedLevel), d3.format(".3f")(dashedLevel), DOWN, "#fff");
tag(yPrice(lastPrice), d3.format(".3f")(lastPrice), UP, "#fff", countdown);

// stack tags so they do not overlap
function stacked(items, dir) {
  items.sort((a, b) => dir * (a.y - b.y));
  for (let k = 1; k < items.length; k++) {
    if (dir > 0 && items[k].y < items[k - 1].y + 9) items[k].y = items[k - 1].y + 9;
    if (dir < 0 && items[k].y > items[k - 1].y - 9) items[k].y = items[k - 1].y - 9;
  }
  items.forEach(t => tag(t.y, t.label, t.bg, t.fg));
}
stacked([
  {y: yRsi(rsiValues[rsiValues.length - 1]), label: d3.format(".2f")(rsiValues[rsiValues.length - 1]), bg: "#7e57c2", fg: "#fff"},
  {y: yRsi(rsiMA[rsiMA.length - 1]), label: d3.format(".2f")(rsiMA[rsiMA.length - 1]), bg: "#fdd835", fg: "#131722"}
], 1);
stacked([
  {y: yMacd(macdHist[macdHist.length - 1]), label: d3.format(".3f")(macdHist[macdHist.length - 1]), bg: "#ffcdd2", fg: "#131722"},
  {y: yMacd(macdLine[macdLine.length - 1]), label: d3.format(".3f")(macdLine[macdLine.length - 1]), bg: "#2962ff", fg: "#fff"},
  {y: yMacd(signalLine[signalLine.length - 1]), label: d3.format(".3f")(signalLine[signalLine.length - 1]), bg: "#ff6d00", fg: "#fff"}
], -1);

// scale labels covered by a tag are hidden, as on the platform
function hideCovered(axisG, scale) {
  axisG.selectAll(".tick").each(function (d) {
    const ty = scale(d);
    if (tagBoxes.some(b => ty + 2.5 > b.y0 && ty - 2.5 < b.y1)) d3.select(this).remove();
  });
}
hideCovered(priceAxis, yPrice);
hideCovered(rsiAxis, yRsi);
hideCovered(macdAxis, yMacd);

// TradingView logo
const logo = svg.append("g").attr("fill", "#131722");
logo.append("path").attr("d", "M5 545h5.5v8h-2.6v-5.4H5z");
logo.append("circle").attr("cx", 12.2).attr("cy", 546.4).attr("r", 1.4);
logo.append("path").attr("d", "M14.2 545h2.8l-3.2 8h-2.8z");
logo.append("text").attr("x", 19).attr("y", 553).attr("font-size", 9).attr("font-weight", 700).text("TradingView");
</script>
</body>
</html>
